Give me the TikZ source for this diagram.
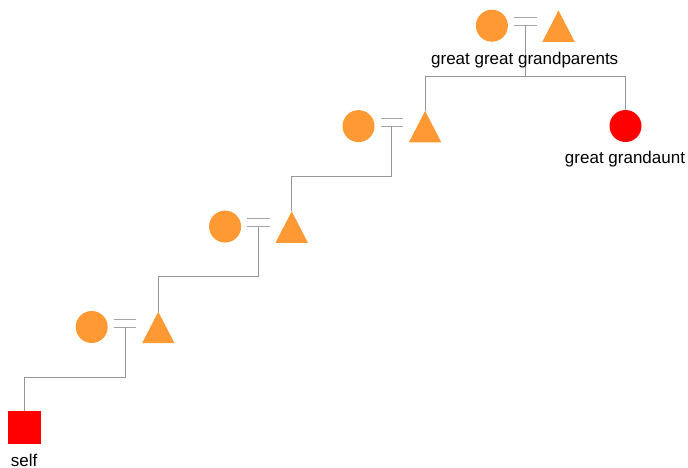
\documentclass[tikz,border=0pt]{standalone}
\usepackage{fontspec}
\setmainfont{Liberation Sans}
\definecolor{orangeC}{RGB}{255,153,51}
\definecolor{redC}{RGB}{255,0,0}
\definecolor{lineC}{RGB}{150,150,150}
\begin{document}
\begin{tikzpicture}[x=1pt,y=-1pt,
  fem/.style={circle,fill=orangeC,minimum size=32pt,inner sep=0pt},
  femred/.style={circle,fill=redC,minimum size=32pt,inner sep=0pt},
  trislot/.style={rectangle,minimum width=32pt,minimum height=31pt,inner sep=0pt},
  selfbox/.style={rectangle,fill=redC,minimum size=33pt,inner sep=0pt},
  lbl/.style={anchor=base,inner sep=0pt,font=\fontsize{17}{20}\selectfont},
  conn/.style={draw=lineC,line width=1pt},
  marr/.style={draw=lineC!85,line width=1pt}]
\useasboundingbox (0,0) rectangle (688,468);
% couples
\foreach \i in {1,2,3,4}{
  \pgfmathsetmacro{\cx}{91.7+(\i-1)*133.4}
  \pgfmathsetmacro{\cy}{327-(\i-1)*100.43}
  \node[fem] (c\i) at (\cx,\cy) {};
  \node[trislot] (t\i) at (\cx+66.6,\cy+0.5) {};
  \fill[orangeC] (t\i.south west) -- (t\i.south east) -- (t\i.north) -- cycle;
  \coordinate (m\i) at (\cx+33.3,\cy);
  \draw[marr] ([shift={(22,-8)}]c\i.center) -- ++(22.7,0);
  \draw[marr] ([shift={(22,0)}]c\i.center) -- ++(22.7,0);
}
\node[selfbox] (s) at (24.5,427.5) {};
\node[femred] (gg) at (625.5,126) {};
% descent lines
\draw[conn] (m1) -- ++(0,50.3) -| (s.north);
\draw[conn] (m2) -- ++(0,50.3) -| (t1.north);
\draw[conn] (m3) -- ++(0,50.3) -| (t2.north);
\draw[conn] (m4) -- ++(0,50.3) -| (t3.north);
\draw[conn] (m4) -- ++(0,50.3) -| (gg.north);
% labels
\node[lbl] (lgg) at (524.7,65) {great great grandparents};
\node[lbl] (lga) at (625,164) {great grandaunt};
\node[lbl] (lself) at (24.2,466) {self};
\end{tikzpicture}
\end{document}
